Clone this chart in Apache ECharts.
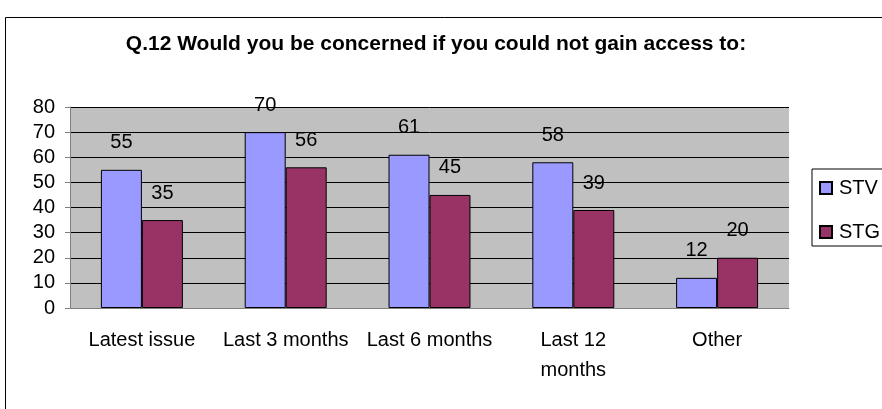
<!DOCTYPE html>
<html lang="en">
  <head>
    <meta charset="utf-8" />
    <script type="text/javascript" src="https://cdn.jsdelivr.net/npm/echarts@6/dist/echarts.min.js"></script>
    <title>Q.12</title>
    <style>
      html, body { margin: 0; padding: 0; background: #fff; }
      #chart { width: 882px; height: 409px; }
    </style>
  </head>
  <body>
    <div id="chart"></div>
    <script>
      var categories = ['Latest issue', 'Last 3 months', 'Last 6 months', 'Last 12\nmonths', 'Other']
      var stv = [55, 70, 61, 58, 12]
      var stg = [35, 56, 45, 39, 20]
      var yTicks = { min: 0, max: 80, interval: 10 }

      var font = 'Liberation Sans, Arial, sans-serif'
      var chart = echarts.init(document.getElementById('chart'))

      function barSeries (name, data, color) {
        return {
          name: name,
          type: 'bar',
          data: data,
          barGap: '0%',
          barCategoryGap: '43%',
          itemStyle: { color: color, borderColor: '#000', borderWidth: 1 },
          label: {
            show: true,
            position: 'top',
            distance: 17,
            color: '#000',
            fontSize: 20,
            fontFamily: font
          }
        }
      }

      chart.setOption({
        animation: false,
        backgroundColor: '#fff',
        title: {
          text: 'Q.12 Would you be concerned if you could not gain access to:',
          left: 431,
          top: 29,
          textAlign: 'center',
          textStyle: { fontSize: 21, fontWeight: 'bold', color: '#000', fontFamily: font }
        },
        graphic: [{
          type: 'rect',
          shape: { x: 5.5, y: 17.5, width: 1000, height: 1000 },
          style: { fill: 'none', stroke: '#000', lineWidth: 1 },
          silent: true
        }],
        legend: {
          orient: 'vertical',
          left: 812,
          top: 169,
          padding: [9, 30, 4, 7],
          itemWidth: 12,
          itemHeight: 12,
          itemGap: 24,
          icon: 'rect',
          borderColor: '#000',
          borderWidth: 1,
          textStyle: { fontSize: 20, color: '#000', fontFamily: font, padding: [0, 0, 0, 2] },
          data: ['STV', 'STG']
        },
        grid: { left: 70, right: 93, top: 107, bottom: 101, show: true, backgroundColor: '#c0c0c0', borderWidth: 0 },
        xAxis: {
          type: 'category',
          data: categories,
          axisLine: { lineStyle: { color: '#808080' } },
          axisTick: { length: 5, lineStyle: { color: '#808080' } },
          axisLabel: { color: '#000', fontSize: 20, fontFamily: font, margin: 17, lineHeight: 30, interval: 0 }
        },
        yAxis: {
          type: 'value',
          min: yTicks.min,
          max: yTicks.max,
          interval: yTicks.interval,
          axisLine: { show: true, lineStyle: { color: '#808080' } },
          axisTick: { show: true, length: 5, lineStyle: { color: '#808080' } },
          splitLine: { lineStyle: { color: '#000', width: 1 } },
          axisLabel: { color: '#000', fontSize: 20, fontFamily: font, margin: 15 }
        },
        series: [
          barSeries('STV', stv, '#9999ff'),
          barSeries('STG', stg, '#993366')
        ]
      })
    </script>
  </body>
</html>
